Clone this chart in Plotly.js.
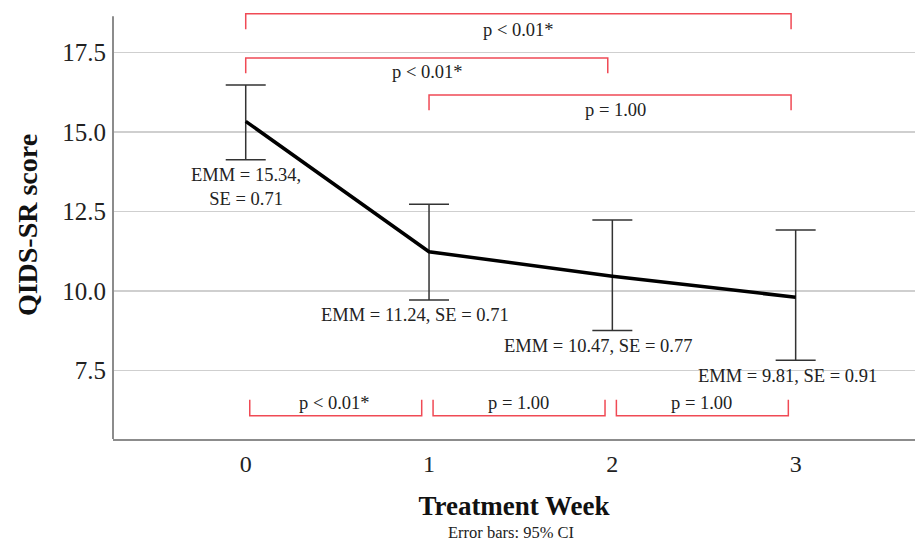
<!DOCTYPE html>
<html>
<head>
<meta charset="utf-8">
<script src="https://cdn.plot.ly/plotly-3.0.1.min.js"></script>
<style>html,body{margin:0;padding:0;background:#fff;} #chart{width:915px;height:545px;}</style>
</head>
<body>
<div id="chart"></div>
<script>
// ---- data ----
const weeks = [0, 1, 2, 3];
const emm = [15.34, 11.24, 10.47, 9.81];
const se = [0.71, 0.71, 0.77, 0.91];
const ciLower = [14.13, 9.72, 8.76, 7.83];
const ciUpper = [16.48, 12.73, 12.24, 11.92];
const yTicks = [7.5, 10.0, 12.5, 15.0, 17.5];

// pairwise comparisons drawn above the line
const topFrom = [0, 0, 1];
const topTo = [3, 2, 3];
const topLabel = ['p < 0.01*', 'p < 0.01*', 'p = 1.00'];
// adjacent comparisons drawn at the bottom
const bottomFrom = [0, 1, 2];
const bottomTo = [1, 2, 3];
const bottomLabel = ['p < 0.01*', 'p = 1.00', 'p = 1.00'];

// ---- styling / layout ----
const serif = '"Liberation Serif", "Times New Roman", serif';
const red = '#f04a55';
const labelSize = 18.5;
const topLevels = [18.72, 17.33, 16.17];
const topDrop = 0.48;
const topTextY = [18.21, 16.89, 15.70];
const topTextX = [1.486, 0.991, 2.015];
const bottomLevel = 6.085, bottomRise = 0.5, bottomTextY = 6.48;

const shapes = [];
const annotations = [];

topFrom.forEach((f, i) => {
  const x0 = weeks[f], x1 = weeks[topTo[i]] - 0.025;
  const yh = topLevels[i], yt = yh - topDrop;
  shapes.push({type: 'path', xref: 'x', yref: 'y',
    path: `M ${x0},${yt} L ${x0},${yh} L ${x1},${yh} L ${x1},${yt}`,
    line: {color: red, width: 1.5}});
  annotations.push({x: topTextX[i], y: topTextY[i], xref: 'x', yref: 'y', text: topLabel[i],
    showarrow: false, font: {family: serif, size: labelSize, color: '#222'}});
});
bottomFrom.forEach((f, i) => {
  const x0 = weeks[f] + 0.022, x1 = weeks[bottomTo[i]] - 0.04;
  const yh = bottomLevel, yt = yh + bottomRise;
  shapes.push({type: 'path', xref: 'x', yref: 'y',
    path: `M ${x0},${yt} L ${x0},${yh} L ${x1},${yh} L ${x1},${yt}`,
    line: {color: red, width: 1.5}});
  annotations.push({x: (weeks[f] + weeks[bottomTo[i]]) / 2 - 0.013, y: bottomTextY, xref: 'x', yref: 'y',
    text: bottomLabel[i], showarrow: false, font: {family: serif, size: labelSize, color: '#222'}});
});

// EMM labels
const emmLabelX = [0, 0.924, 1.922, 2.956];
const emmLabelY = [13.29, 9.25, 8.29, 7.34];
weeks.forEach((w, i) => {
  const txt = i === 0
    ? `EMM = ${emm[i].toFixed(2)},<br>SE = ${se[i].toFixed(2)}`
    : `EMM = ${emm[i].toFixed(2)}, SE = ${se[i].toFixed(2)}`;
  annotations.push({x: emmLabelX[i], y: emmLabelY[i], xref: 'x', yref: 'y', text: txt,
    showarrow: false, font: {family: serif, size: labelSize, color: '#222'}});
});

// y axis line (shorter than plot area)
shapes.push({type: 'line', xref: 'paper', yref: 'paper', x0: 0, x1: 0, y0: 0, y1: 0.988,
  line: {color: '#8c8c8c', width: 2}});

annotations.push({xref: 'paper', yref: 'paper', x: 0.496, y: -0.2196, yanchor: 'middle',
  text: 'Error bars: 95% CI', showarrow: false, font: {family: serif, size: 16.5, color: '#222'}});

const trace = {
  x: weeks, y: emm, type: 'scatter', mode: 'lines',
  line: {color: '#000', width: 3.5},
  error_y: {type: 'data', symmetric: false,
    array: ciUpper.map((u, i) => u - emm[i]),
    arrayminus: emm.map((m, i) => m - ciLower[i]),
    color: '#333', thickness: 1.5, width: 20},
  hoverinfo: 'x+y'
};

const layout = {
  width: 915, height: 545,
  margin: {l: 113, r: 0, t: 11, b: 106},
  paper_bgcolor: '#fff', plot_bgcolor: '#fff',
  showlegend: false,
  xaxis: {
    range: [-0.724, 3.651], tickvals: weeks, ticktext: weeks.map(String),
    showgrid: false, zeroline: false, showline: true, linecolor: '#8c8c8c', linewidth: 2,
    ticks: '', ticklabelstandoff: 2,
    tickfont: {family: serif, size: 24, color: '#222'},
    title: {text: '<b>Treatment Week</b>', font: {family: serif, size: 27, color: '#111'}, standoff: 20}
  },
  yaxis: {
    range: [5.352, 18.81], tickvals: yTicks, ticktext: yTicks.map(v => v.toFixed(1)),
    showgrid: true, gridcolor: '#cfcfcf', gridwidth: 1.5, zeroline: false, showline: false,
    ticks: '', ticklabelstandoff: 6,
    tickfont: {family: serif, size: 25, color: '#222'},
    title: {text: '<b>QIDS-SR score</b>', font: {family: serif, size: 28, color: '#111'}, standoff: 16}
  },
  shapes: shapes,
  annotations: annotations
};

Plotly.newPlot('chart', [trace], layout, {displayModeBar: false, staticPlot: true});
</script>
</body>
</html>
